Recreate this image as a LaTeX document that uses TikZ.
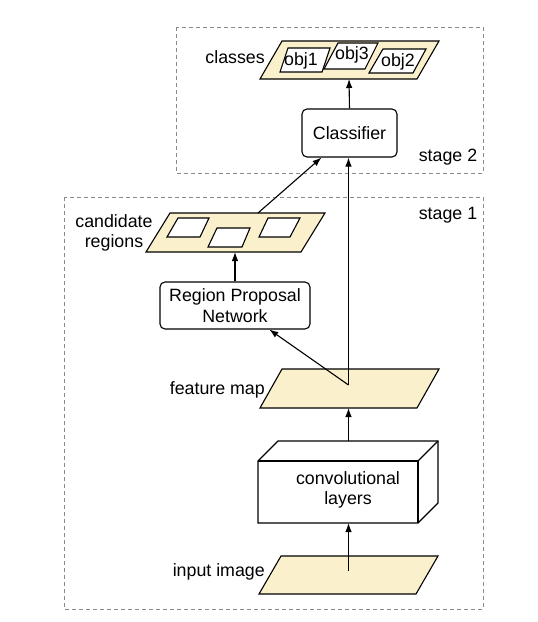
\documentclass[tikz,border=0pt]{standalone}
\usepackage{fontspec}
\setmainfont{Liberation Sans}
\usetikzlibrary{arrows.meta}
\definecolor{beige}{HTML}{FBF0CC}
\definecolor{dashgray}{HTML}{8A8A8A}
\begin{document}
\begin{tikzpicture}[x=1pt,y=-1pt,
  every node/.style={font=\fontsize{17.8}{20.5}\selectfont, inner sep=0pt},
  ln/.style={line width=1.1pt, draw=black},
  para/.style={ln, fill=beige, line join=miter},
  inbox/.style={ln, fill=white},
  proc/.style={ln, fill=white, rounded corners=5pt},
  arr/.style={ln, -{Latex[length=9pt,width=6.5pt]}},
  stagebox/.style={draw=dashgray, line width=1pt, dash pattern=on 4pt off 3pt},
]
\useasboundingbox (0,0) rectangle (538,622);

% stage boxes
\draw[stagebox] (176,27) rectangle (483,173);
\draw[stagebox] (64,197) rectangle (483,609);
\node (st2) at (448,157) {stage 2};
\node (st1) at (448,215) {stage 1};

% classes
\draw[para] (260,79) -- (417,79) -- (439,41) -- (282,41) -- cycle;
\draw[inbox] (280,72) -- (322,72) -- (330,48) -- (288,48) -- cycle;
\draw[inbox] (324,69) -- (365,69) -- (378,43) -- (338,43) -- cycle;
\draw[inbox] (369,73) -- (413,73) -- (426,49) -- (383,49) -- cycle;
\node (o1) at (301,61) {obj1};
\node (o3) at (352,55) {obj3};
\node (o2) at (398,62) {obj2};
\node[anchor=east] (lcls) at (265,57) {classes};
\coordinate (clsB) at (349,79);

% classifier
\node[proc, minimum width=95pt, minimum height=48pt] (cls) at (349.5,133) {Classifier};

% candidate regions
\draw[para] (146,252) -- (301,252) -- (325,213) -- (170,213) -- cycle;
\draw[inbox] (167,237) -- (200,237) -- (209,218) -- (178,218) -- cycle;
\draw[inbox] (208,247) -- (242,247) -- (250,228) -- (217,228) -- cycle;
\draw[inbox] (259,237) -- (290,237) -- (300,218) -- (268,218) -- cycle;
\node[align=center] (lcand) at (114,233) {candidate\\regions};
\coordinate (candT) at (258,213);
\coordinate (candB) at (235,252);

% RPN
\node[proc, minimum width=150pt, minimum height=47pt, align=center] (rpn) at (235,305.5) {Region Proposal\\Network};

% feature map
\draw[para] (260,408) -- (417,408) -- (439,369) -- (282,369) -- cycle;
\node[anchor=east] (lfm) at (265,390) {feature map};
\coordinate (fm) at (348.5,385);
\coordinate (fmB) at (348.5,408);

% conv layers
\draw[ln, fill=white, line join=miter] (258,461) -- (278,441) -- (438,441) -- (438,503) -- (418,523) -- (258,523) -- cycle;
\draw[ln] (258,461) -- (418,461) -- (418,523);
\draw[ln] (418,461) -- (438,441);
\node[align=center] (conv) at (348,490) {convolutional\\layers};
\coordinate (convT) at (348.5,441);
\coordinate (convB) at (348.5,523);

% input image
\draw[para] (259,594) -- (416,594) -- (438,556) -- (281,556) -- cycle;
\node[anchor=east] (lin) at (265,572) {input image};
\coordinate (inP) at (348.5,571);

% connectors
\draw[arr] (cls.north) -- (clsB);
\draw[arr] (candT) -- (cls);
\draw[arr] (fm) -- (fm |- cls.south);
\draw[arr] (fm) -- (rpn);
\draw[arr] (rpn.north) -- (candB);
\draw[arr] (convT) -- (fmB);
\draw[arr] (inP) -- (convB);
\end{tikzpicture}
\end{document}
